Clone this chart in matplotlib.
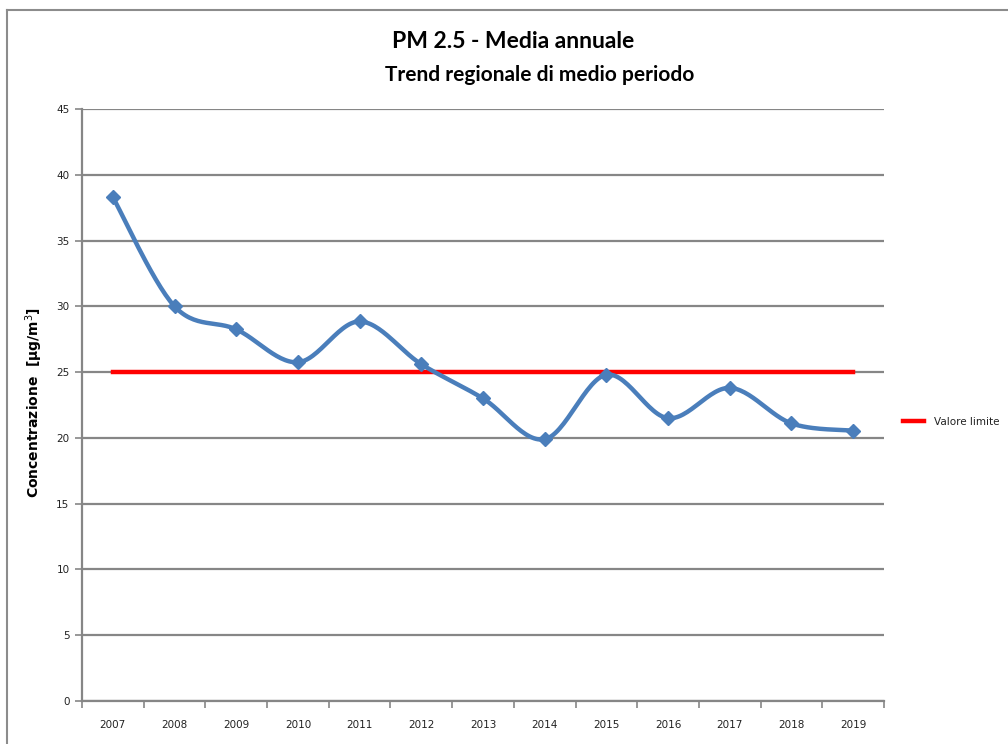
import numpy as np
import matplotlib
matplotlib.use("Agg")
import matplotlib.pyplot as plt
from matplotlib.lines import Line2D

years = ["2007", "2008", "2009", "2010", "2011", "2012", "2013",
         "2014", "2015", "2016", "2017", "2018", "2019"]
pm25 = [38.3, 30.0, 28.25, 25.75, 28.85, 25.6, 23.0,
        19.9, 24.8, 21.5, 23.8, 21.1, 20.55]
limit_value = 25
limit_series = [limit_value] * len(years)
y_ticks = [0, 5, 10, 15, 20, 25, 30, 35, 40, 45]

title_l1 = "PM 2.5 - Media annuale"
title_l2 = "Trend regionale di medio periodo"
ylabel = "Concentrazione  [µg/m$^3$]"
legend_label = "Valore limite"

BLUE = "#4a7ebb"
RED = "#ff0000"
GRID = "#868686"

def excel_smooth(xs, ys, n=30):
    xs = np.asarray(xs, float); ys = np.asarray(ys, float)
    P = np.column_stack([xs, ys])
    out = []
    for i in range(len(P) - 1):
        p0 = P[i - 1] if i > 0 else P[i]
        p1 = P[i]; p2 = P[i + 1]
        p3 = P[i + 2] if i + 2 < len(P) else P[i + 1]
        c1 = p1 + (p2 - p0) / 6.0
        c2 = p2 - (p3 - p1) / 6.0
        t = np.linspace(0, 1, n)[:, None]
        seg = ((1 - t) ** 3) * p1 + 3 * ((1 - t) ** 2) * t * c1 + 3 * (1 - t) * t ** 2 * c2 + t ** 3 * p2
        out.append(seg if i == 0 else seg[1:])
    s = np.vstack(out)
    return s[:, 0], s[:, 1]

fig = plt.figure(figsize=(10.08, 7.44), dpi=100)
fig.patch.set_facecolor("white")

# outer chart border
fig.add_artist(Line2D([7/1008, 7/1008], [0, 1 - 10/744], transform=fig.transFigure, color="#8c8c8c", lw=1.5))
fig.add_artist(Line2D([7/1008, 1], [1 - 10/744, 1 - 10/744], transform=fig.transFigure, color="#8c8c8c", lw=1.5))

ax = fig.add_axes([82/1008, 1 - 701/744, (884 - 82)/1008, (701 - 109)/744])
x = np.arange(len(years))

ax.set_xlim(-0.5, len(years) - 0.5)
ax.set_ylim(0, 45)
ax.set_yticks(y_ticks)
ax.set_yticklabels([str(v) for v in y_ticks])
ax.yaxis.grid(True, color=GRID, lw=1.6)
ax.set_axisbelow(True)

ax.set_xticks(x)
ax.set_xticklabels(years)
ax.set_xticks(np.arange(-0.5, len(years)), minor=True)
ax.tick_params(axis="x", which="major", length=0, pad=14, labelsize=7.5, labelcolor="#222222")
ax.tick_params(axis="x", which="minor", length=5, width=1.2, color=GRID, direction="out")
ax.tick_params(axis="y", length=5, width=1.2, color=GRID, direction="out", labelsize=7.5, labelcolor="#222222", pad=4)

for s in ["top", "right"]:
    ax.spines[s].set_visible(False)
for s in ["left", "bottom"]:
    ax.spines[s].set_color(GRID)
    ax.spines[s].set_linewidth(1.6)

sx, sy = excel_smooth(x, pm25)
ax.plot(sx, sy, color=BLUE, lw=3.2, solid_capstyle="round", zorder=3)
ax.plot(x, pm25, linestyle="none", marker="D", markersize=7, color=BLUE, zorder=4)
ax.plot(x, limit_series, color=RED, lw=3.2, zorder=2)

ax.set_ylabel(ylabel, fontsize=10, fontweight="bold")
ax.yaxis.set_label_coords(-0.046, 0.505)

fig.text(513/1008, 1 - 42/744, title_l1, ha="center", va="center", fontsize=16.5,
         fontweight="bold", family=["Lato", "DejaVu Sans"])
fig.text(540/1008, 1 - 75/744, title_l2, ha="center", va="center", fontsize=15,
         fontweight="bold", family=["Lato", "DejaVu Sans"])

# legend
fig.add_artist(Line2D([903/1008, 924/1008], [1 - 421/744, 1 - 421/744], transform=fig.transFigure, color=RED, lw=3.2))
fig.text(934/1008, 1 - 422/744, legend_label, ha="left", va="center", fontsize=7.5, color="#222222")

fig.savefig("out.png", dpi=100)
